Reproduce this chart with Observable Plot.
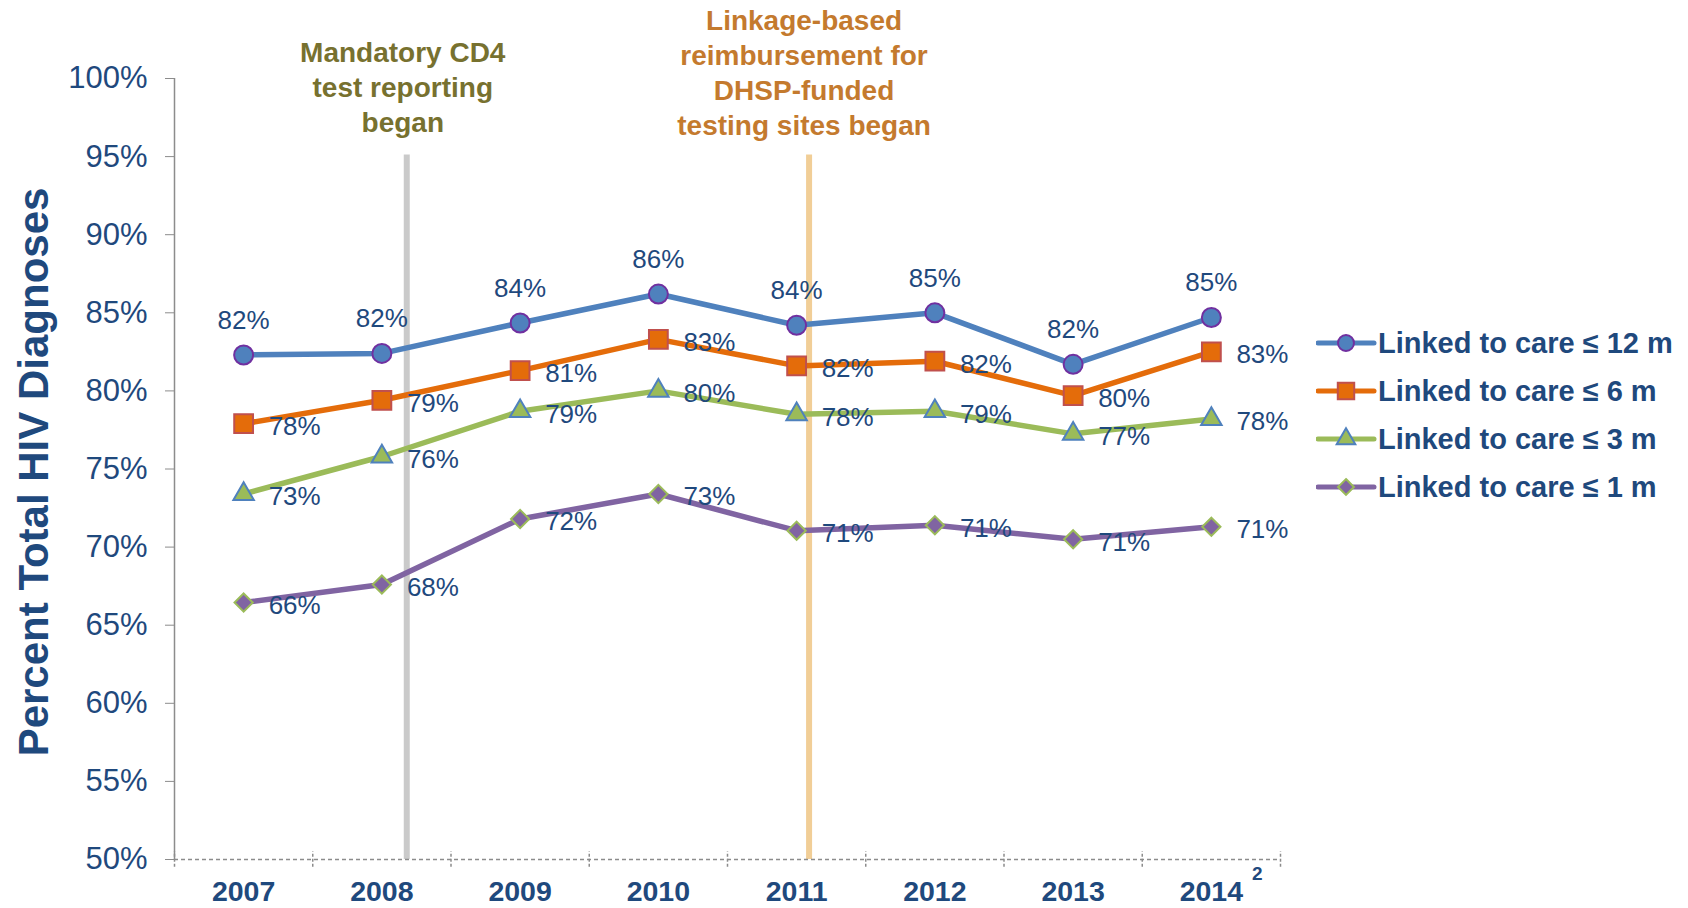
<!DOCTYPE html>
<html><head><meta charset="utf-8">
<script src="https://cdn.jsdelivr.net/npm/d3@7"></script>
<script src="https://cdn.jsdelivr.net/npm/@observablehq/plot@0.6"></script>
<style>
body{margin:0;background:#fff;font-family:"Liberation Sans",Arial,sans-serif;}
#wrap{position:relative;width:1688px;height:908px;overflow:hidden;background:#fff}
#legend{position:absolute;left:1316px;top:319px}
svg{font-family:"Liberation Sans",Arial,sans-serif;}
</style></head><body><div id="wrap"><div id="chart"></div><div id="legend"></div></div>
<script>
// ---- data ----
const years = [2007, 2008, 2009, 2010, 2011, 2012, 2013, 2014];
const seriesNames = ["Linked to care ≤ 12 m", "Linked to care ≤ 6 m", "Linked to care ≤ 3 m", "Linked to care ≤ 1 m"];
const care12 = [82.3, 82.4, 84.35, 86.2, 84.2, 85.0, 81.7, 84.7];
const care6  = [77.9, 79.4, 81.3, 83.3, 81.6, 81.9, 79.7, 82.5];
const care3  = [73.4, 75.8, 78.7, 80.0, 78.5, 78.7, 77.25, 78.2];
const care1  = [66.45, 67.6, 71.8, 73.4, 71.05, 71.4, 70.5, 71.3];
const labels12 = [82, 82, 84, 86, 84, 85, 82, 85];
const labels6  = [78, 79, 81, 83, 82, 82, 80, 83];
const labels3  = [73, 76, 79, 80, 78, 79, 77, 78];
const labels1  = [66, 68, 72, 73, 71, 71, 71, 71];
const yTicks = [50, 55, 60, 65, 70, 75, 80, 85, 90, 95, 100];
const xDomain = [2006.5, 2014.5];
const bandEdges = [2006.5, 2007.5, 2008.5, 2009.5, 2010.5, 2011.5, 2012.5, 2013.5, 2014.5];
const eventYears = [2008.18, 2011.09];
const eventTexts = ["Mandatory CD4\ntest reporting\nbegan", "Linkage-based\nreimbursement for\nDHSP-funded\ntesting sites began"];
const eventTop = 95.1;
const footnotes = [{year: 2014, mark: "2"}];
const yTitle = "Percent Total HIV Diagnoses";

// ---- styles ----
const navy = "#1F497D";
const styles = [
  {color: "#4F81BD", symbol: "circle",   fill: "#4F81BD", stroke: "#7030A0", r: 9.5, size: 200},
  {color: "#E46C0A", symbol: "square",   fill: "#E46C0A", stroke: "#C0504D", r: 10.6, size: 270},
  {color: "#9BBB59", symbol: "triangle", fill: "#9BBB59", stroke: "#4F81BD", r: 7.6, size: 150},
  {color: "#8064A2", symbol: "diamond2", fill: "#8064A2", stroke: "#9BBB59", r: 8.2, size: 160}
];
const eventColors = ["#C4C4C4", "#F0C98C"];
const eventTextColors = ["#77712F", "#C47A2E"];

const values = [care12, care6, care3, care1];
const labels = [labels12, labels6, labels3, labels1];
const rows = values.map((vals, i) => years.map((yr, j) => ({series: i, year: yr, value: vals[j], label: labels[i][j] + "%"})));
const eventRows = eventYears.map((x, i) => ({x, text: eventTexts[i]}));

const marks = [];
// event rules
eventRows.forEach((e, i) => {
  marks.push(Plot.ruleX([e], {x: "x", y1: 50, y2: eventTop, stroke: eventColors[i], strokeWidth: 6, strokeOpacity: 0.9}));
});
// axes lines
marks.push(Plot.ruleX([xDomain[0]], {y1: yTicks[0], y2: yTicks[yTicks.length - 1], stroke: "#8C8C8C", strokeWidth: 1.5}));
marks.push(Plot.ruleY([yTicks[0]], {stroke: "#8C8C8C", strokeWidth: 1.5, strokeDasharray: "4,3"}));
marks.push(Plot.ruleX(bandEdges, {y1: 49.5, y2: 50.5, stroke: "#8C8C8C", strokeWidth: 1.5, strokeDasharray: "3,2"}));
marks.push(Plot.axisY({ticks: yTicks, tickFormat: d => d + "%", tickSize: 9, tickPadding: 18, fontSize: 31, stroke: "#8C8C8C", fill: navy, label: null}));
marks.push(Plot.axisX({ticks: years, tickSize: 0, tickPadding: 21, tickFormat: d => String(d), fontSize: 28.5, fontWeight: "bold", fill: navy, label: null}));
marks.push(Plot.text(footnotes, {x: "year", text: "mark", frameAnchor: "bottom", dx: 46, dy: 20, fontSize: 19, fontWeight: "bold", fill: navy}));
// y title
marks.push(Plot.text([yTitle], {text: d => d, frameAnchor: "left", textAnchor: "middle", dx: -140, dy: 3, rotate: -90, fontSize: 42, fontWeight: "bold", fill: navy}));
// event texts
marks.push(Plot.text([eventRows[0]], {x: "x", text: "text", frameAnchor: "top", lineAnchor: "bottom", dx: -4, dy: 53, fontSize: 28, fontWeight: "bold", fill: eventTextColors[0], lineHeight: 1.25}));
marks.push(Plot.text([eventRows[1]], {x: "x", text: "text", frameAnchor: "top", lineAnchor: "bottom", dx: -5, dy: 56, fontSize: 28, fontWeight: "bold", fill: eventTextColors[1], lineHeight: 1.25}));
// series
rows.forEach((data, i) => {
  const s = styles[i];
  marks.push(Plot.line(data, {x: "year", y: "value", stroke: s.color, strokeWidth: 5.5}));
});
rows.forEach((data, i) => {
  const s = styles[i];
  marks.push(Plot.dot(data, {x: "year", y: "value", symbol: s.symbol, r: s.r, fill: s.fill, stroke: s.stroke, strokeWidth: 2}));
});
rows.forEach((data, i) => {
  if (i === 0) {
    marks.push(Plot.text(data, {x: "year", y: "value", text: "label", lineAnchor: "bottom", dy: -26, fontSize: 26, fill: navy}));
  } else {
    marks.push(Plot.text(data, {x: "year", y: "value", text: "label", textAnchor: "start", dx: 25, dy: 3, fontSize: 26, fill: navy}));
  }
});

const chart = Plot.plot({
  width: 1688, height: 908,
  marginLeft: 174, marginRight: 408, marginTop: 78, marginBottom: 49,
  style: {fontFamily: '"Liberation Sans", Arial, sans-serif', background: "#fff", overflow: "visible"},
  x: {domain: xDomain, axis: null},
  y: {domain: [yTicks[0], yTicks[yTicks.length - 1]], axis: null},
  marks
});
document.getElementById("chart").appendChild(chart);

// ---- legend ----
const lg = d3.select("#legend").append("svg").attr("width", 372).attr("height", 192);
const symbolTypes = {circle: d3.symbolCircle, square: d3.symbolSquare, triangle: d3.symbolTriangle, diamond2: d3.symbolDiamond2};
seriesNames.forEach((name, i) => {
  const s = styles[i];
  const g = lg.append("g").attr("transform", `translate(0,${24 + 48 * i})`);
  g.append("line").attr("x1", 2).attr("x2", 58).attr("y1", 0).attr("y2", 0).attr("stroke", s.color).attr("stroke-width", 5).attr("stroke-linecap", "round");
  g.append("path").attr("transform", "translate(30,0)").attr("d", d3.symbol(symbolTypes[s.symbol], s.size)()).attr("fill", s.fill).attr("stroke", s.stroke).attr("stroke-width", 2);
  g.append("text").attr("x", 62).attr("dy", "0.35em").attr("font-size", 29).attr("font-weight", "bold").attr("fill", navy).text(name);
});
</script></body></html>
